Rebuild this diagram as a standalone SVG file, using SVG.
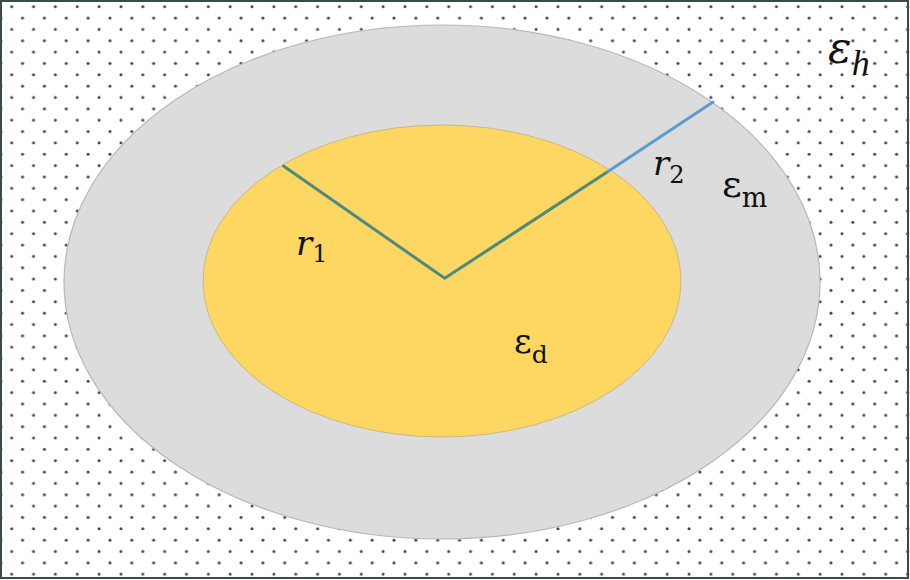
<svg xmlns="http://www.w3.org/2000/svg" width="910" height="580" viewBox="0 0 910 580">
<defs>
<pattern id="dots" x="0.7" y="1" width="21.85" height="22.7" patternUnits="userSpaceOnUse">
<circle cx="11" cy="5.7" r="1.5" fill="#444"/>
<circle cx="0" cy="17.05" r="1.5" fill="#444"/>
<circle cx="21.85" cy="17.05" r="1.5" fill="#444"/>
</pattern>
<style>
.lbl{font-family:"DejaVu Serif","Liberation Serif",serif;fill:#111}
.it{font-style:italic}
.up{font-style:normal}
</style>
</defs>
<rect x="0" y="0" width="910" height="580" fill="#fff"/>
<rect x="0" y="0" width="910" height="580" fill="url(#dots)"/>
<rect x="1" y="1" width="907" height="577" fill="none" stroke="#3d4a4a" stroke-width="2"/>
<g id="outer">
<ellipse cx="442" cy="282" rx="378" ry="257" fill="#dcdcdc" stroke="#b8b8b8" stroke-width="1.2"/>
</g>
<g id="inner">
<ellipse cx="442" cy="281" rx="239" ry="156" fill="#fed762" stroke="#c9b88a" stroke-width="1"/>
</g>
<g id="connectors" fill="none" stroke-width="3" stroke-linecap="round">
<polyline points="283.5,166 444.7,278.3 608,171.5" stroke="#4e8a7d"/>
<line x1="608" y1="171.5" x2="713" y2="102" stroke="#5b9bd5"/>
</g>
<g id="labels">
<text class="lbl it" x="828" y="63" font-size="44">ε<tspan font-family="Liberation Serif" font-size="36" dy="12">h</tspan></text>
<text class="lbl" x="722" y="197" font-size="38">ε<tspan font-size="27" dy="10">m</tspan></text>
<text class="lbl it" x="296" y="255" font-size="34">r<tspan class="up" font-size="24" dy="7">1</tspan></text>
<text class="lbl it" x="653" y="175" font-size="34">r<tspan class="up" font-size="24" dy="8">2</tspan></text>
<text class="lbl" x="514" y="353" font-size="34">ε<tspan font-size="25" dy="10">d</tspan></text>
</g>
</svg>
